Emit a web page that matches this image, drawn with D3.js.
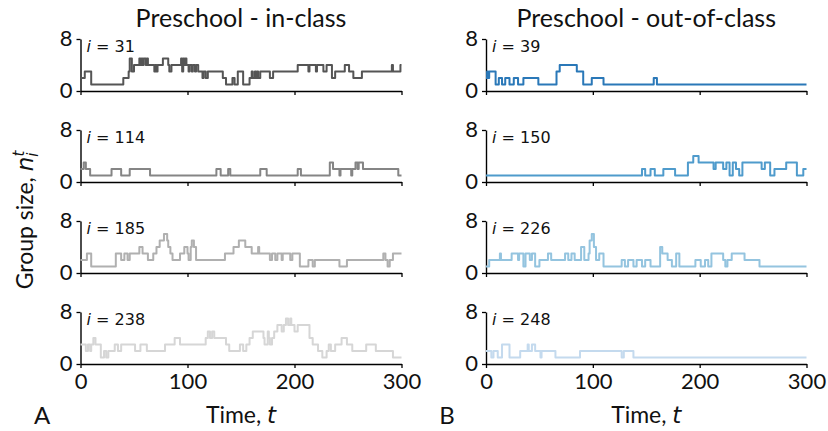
<!DOCTYPE html>
<html>
<head>
<meta charset="utf-8">
<script src="https://cdn.jsdelivr.net/npm/d3@7"></script>
<style>
  body { margin: 0; background: #fff; }
  svg { display: block; }
</style>
</head>
<body>
<svg id="chart" width="828" height="431"></svg>
<script>
// Axis ticks
const timeTicks = [0, 100, 200, 300];
const sizeTicks = [0, 8];

// Individuals shown in each column
const inClassIds = [31, 114, 185, 238];
const outClassIds = [39, 150, 226, 248];

// Group size n_i^t as change points [t, n] (value holds until the next point)
const inClass31 = [[0,2],[4,3],[10,1],[40,2],[45,3],[46,5],[48,3],[50,4],[55,5],[56,4],[57,5],[58,4],[59,5],[61,4],[62,5],[63,4],[69,3],[70,4],[71,3],[72,4],[77,5],[82,4],[83,3],[85,4],[94,5],[95,3],[96,5],[97,4],[98,5],[99,4],[101,3],[102,4],[104,3],[105,4],[107,3],[108,4],[110,3],[114,2],[115,3],[117,2],[119,3],[133,2],[136,1],[142,2],[144,1],[147,3],[152,1],[158,2],[160,3],[161,2],[163,3],[164,2],[165,3],[166,2],[168,3],[177,2],[180,3],[203,4],[213,3],[214,4],[220,3],[221,4],[227,3],[230,4],[235,2],[238,3],[247,4],[251,3],[255,2],[263,3],[291,4],[292,3],[299,4]];
const inClass114 = [[0,2],[3,3],[5,2],[9,1],[29,2],[38,1],[46,2],[65,1],[127,2],[131,1],[138,2],[140,1],[168,2],[174,1],[203,2],[206,1],[233,3],[236,2],[242,1],[243,2],[253,1],[254,2],[257,3],[259,2],[260,3],[264,2],[297,1]];
const inClass185 = [[0,2],[6,3],[10,1],[33,3],[38,2],[41,3],[44,2],[46,3],[55,4],[58,3],[63,2],[68,3],[71,4],[74,5],[78,6],[81,5],[82,4],[84,3],[86,2],[93,3],[97,4],[100,3],[101,2],[103,4],[104,5],[106,4],[108,2],[135,3],[143,4],[148,5],[154,4],[160,3],[166,4],[167,3],[177,2],[179,3],[182,2],[184,3],[188,2],[189,3],[196,2],[198,3],[205,1],[213,2],[217,1],[219,2],[242,1],[249,2],[283,3],[285,2],[287,1],[289,2],[292,3]];
const inClass238 = [[0,3],[5,2],[7,3],[9,2],[10,3],[12,4],[14,3],[19,1],[22,2],[24,1],[26,2],[32,3],[35,2],[38,3],[51,2],[56,3],[62,2],[79,3],[88,4],[93,3],[117,4],[119,5],[121,4],[123,5],[125,4],[136,3],[139,2],[149,3],[152,2],[155,3],[158,4],[161,5],[171,4],[172,3],[175,5],[176,4],[177,3],[179,4],[181,5],[184,6],[188,5],[190,6],[192,7],[194,6],[196,7],[197,6],[200,5],[203,6],[211,6],[214,4],[217,3],[222,2],[226,1],[230,2],[232,3],[234,2],[238,3],[244,4],[249,3],[254,2],[267,3],[276,2],[292,1]];

const outClass39 = [[0,2],[1,3],[2,2],[3,3],[9,1],[12,2],[15,1],[18,2],[22,1],[26,2],[30,1],[35,2],[49,1],[66,3],[69,4],[85,3],[91,1],[99,2],[110,1],[157,2],[160,1]];
const outClass150 = [[0,1],[146,2],[149,1],[154,2],[158,1],[166,2],[177,1],[189,3],[194,4],[199,3],[213,2],[215,3],[222,2],[225,3],[228,1],[231,3],[234,2],[237,1],[240,3],[258,2],[261,3],[266,1],[270,2],[281,3],[291,1],[297,2]];
const outClass226 = [[0,1],[3,2],[13,3],[14,2],[24,3],[30,2],[31,3],[35,1],[37,3],[41,2],[43,3],[46,1],[50,2],[58,3],[61,2],[74,3],[77,2],[80,3],[83,2],[89,4],[92,2],[96,3],[97,5],[99,6],[101,4],[103,2],[106,3],[110,1],[127,2],[130,1],[133,2],[138,1],[141,2],[146,1],[149,2],[154,1],[163,4],[165,3],[170,2],[174,1],[178,3],[181,1],[196,2],[201,1],[205,2],[208,1],[211,3],[222,2],[224,1],[226,2],[230,3],[242,2],[256,1]];
const outClass248 = [[0,2],[5,1],[7,2],[11,1],[15,3],[22,1],[32,2],[39,3],[40,2],[43,3],[46,2],[51,1],[52,2],[65,1],[88,2],[127,1],[129,2],[138,1]];

const inClassSeries = [inClass31, inClass114, inClass185, inClass238];
const outClassSeries = [outClass39, outClass150, outClass226, outClass248];

const greys = ["#555555", "#858585", "#b0b0b0", "#d6d6d6"];
const blues = ["#2a78b8", "#4f9bcc", "#94c4df", "#c4daee"];

const svg = d3.select("#chart");
const labelFont = "Lato, 'Open Sans', sans-serif";
const mathFont = "'DejaVu Sans', sans-serif";

const panelHeight = 52;
const rowBase = [91, 182, 273, 364];
const columns = [
  { range: [80.5, 401.5], ids: inClassIds, series: inClassSeries, colors: greys,
    title: "Preschool - in-class", letter: "A", letterX: 42 },
  { range: [486, 806.5], ids: outClassIds, series: outClassSeries, colors: blues,
    title: "Preschool - out-of-class", letter: "B", letterX: 447 }
];

const tMax = d3.max(timeTicks);
const nMax = d3.max(sizeTicks);

columns.forEach(col => {
  const x = d3.scaleLinear().domain([0, tMax]).range(col.range);
  const midX = (col.range[0] + col.range[1]) / 2;

  svg.append("text")
    .attr("x", midX).attr("y", 27)
    .attr("text-anchor", "middle")
    .style("font-family", labelFont).style("font-size", "25px").style("fill", "#111")
    .text(col.title);

  col.series.forEach((pts, r) => {
    const base = rowBase[r];
    const y = d3.scaleLinear().domain([0, nMax]).range([base, base - panelHeight]);
    const g = svg.append("g");

    const yAxis = g.append("g")
      .attr("transform", `translate(${col.range[0]},0)`)
      .call(d3.axisLeft(y).tickValues(sizeTicks).tickSize(4).tickSizeOuter(0).tickPadding(4));
    const xAxis = g.append("g")
      .attr("transform", `translate(0,${base})`)
      .call(d3.axisBottom(x).tickValues(timeTicks).tickSize(4).tickSizeOuter(0).tickPadding(5));

    [yAxis, xAxis].forEach(a => {
      a.select(".domain").attr("stroke", "#000").attr("stroke-width", 1.4);
      a.selectAll(".tick line").attr("stroke", "#000").attr("stroke-width", 1.3);
      a.selectAll(".tick text")
        .style("font-family", labelFont).style("font-size", "22px").attr("fill", "#111");
    });
    yAxis.selectAll(".tick text").attr("dy", "0.3em");
    if (r < rowBase.length - 1) xAxis.selectAll(".tick text").remove();

    const data = pts.concat([[tMax, pts[pts.length - 1][1]]]);
    const line = d3.line()
      .x(d => x(d[0]))
      .y(d => y(d[1]))
      .curve(d3.curveStepAfter);

    g.append("path")
      .datum(data)
      .attr("d", line)
      .attr("fill", "none")
      .attr("stroke", col.colors[r])
      .attr("stroke-width", 2)
      .attr("stroke-linejoin", "round");

    const lab = g.append("text")
      .attr("x", col.range[0] + 6)
      .attr("y", base - panelHeight + 13)
      .style("font-family", mathFont).style("font-size", "16px").style("fill", "#111");
    lab.append("tspan").style("font-style", "italic").text("i");
    lab.append("tspan").text(" = " + col.ids[r]);
  });

  svg.append("text")
    .attr("x", midX).attr("y", 423)
    .attr("text-anchor", "middle")
    .style("font-family", labelFont).style("font-size", "23px").style("fill", "#111")
    .call(t => {
      t.append("tspan").text("Time, ");
      t.append("tspan").style("font-family", mathFont).style("font-style", "italic").text("t");
    });

  svg.append("text")
    .attr("x", col.letterX).attr("y", 424)
    .attr("text-anchor", "middle")
    .style("font-family", labelFont).style("font-size", "24px").style("fill", "#111")
    .text(col.letter);
});

// Shared y label
const yl = svg.append("text")
  .attr("transform", "translate(33,220) rotate(-90)")
  .attr("text-anchor", "middle")
  .style("font-family", labelFont).style("font-size", "23px").style("fill", "#111");
yl.append("tspan").text("Group size, ");
yl.append("tspan").style("font-family", mathFont).style("font-style", "italic").text("n");
yl.append("tspan").style("font-family", mathFont).style("font-style", "italic")
  .style("font-size", "15px").attr("dy", "5").text("i");
yl.append("tspan").style("font-family", mathFont).style("font-style", "italic")
  .style("font-size", "15px").attr("dx", "-4").attr("dy", "-14").text("t");
</script>
</body>
</html>
